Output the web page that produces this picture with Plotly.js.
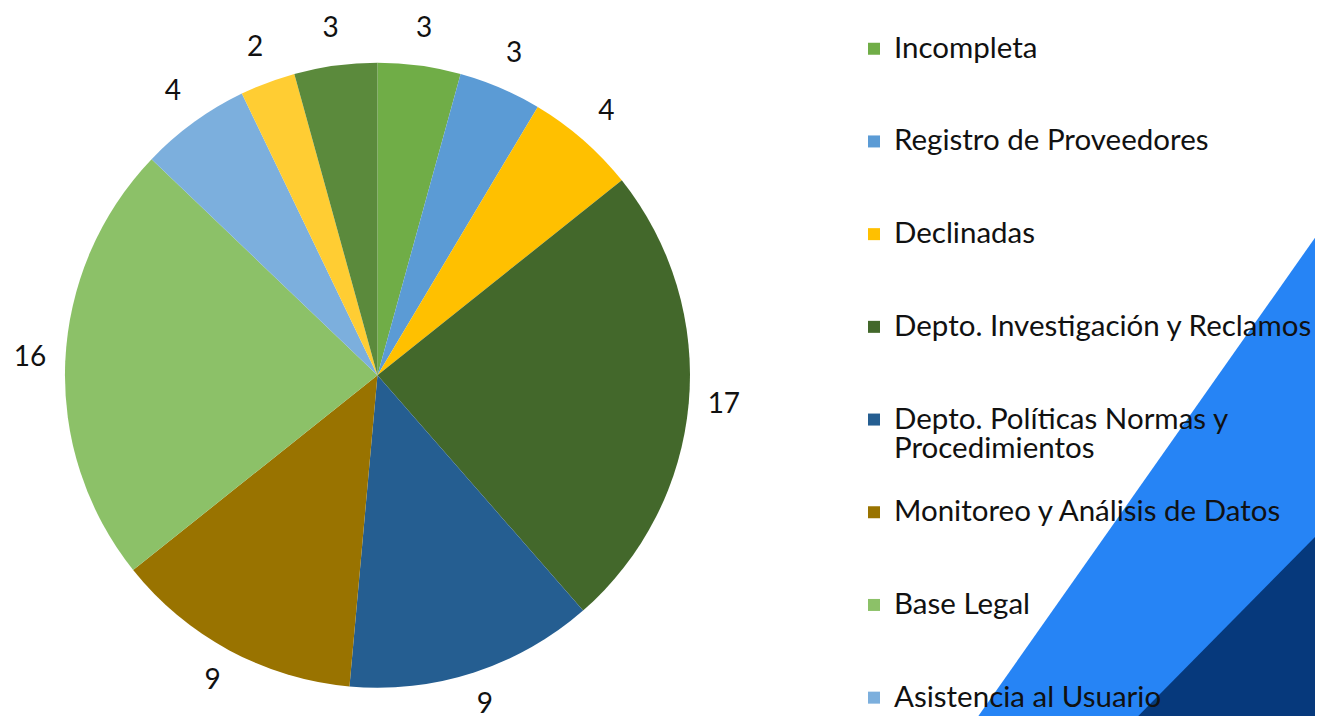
<!DOCTYPE html>
<html>
<head>
<meta charset="utf-8">
<script src="https://cdn.plot.ly/plotly-3.0.1.min.js"></script>
<style>
  html, body { margin: 0; padding: 0; background: #ffffff; }
  #plot { width: 1317px; height: 716px; }
</style>
</head>
<body>
<div id="plot"></div>
<script>
// slices, clockwise from 12 o'clock
var categories = [
  "Incompleta",
  "Registro de Proveedores",
  "Declinadas",
  "Depto. Investigación y Reclamos",
  "Depto. Políticas Normas y<br>Procedimientos",
  "Monitoreo y Análisis de Datos",
  "Base Legal",
  "Asistencia al Usuario",
  "Otros",
  "Sin clasificar"
];
var counts = [3, 3, 4, 17, 9, 9, 16, 4, 2, 3];
var sliceColors = ["#70AD47", "#5B9BD5", "#FFC000", "#43682B", "#255E91",
                   "#997300", "#8CC168", "#7CAFDD", "#FFCD33", "#5B8A3C"];

var FONT = "Lato, 'Open Sans', sans-serif";

// legend labels: bigger text inside, blank lines give the tall rows
var legendLabels = categories.map(function (c) {
  var lines = c.split("<br>").map(function (l) {
    return "<span style='font-size:29.5px'>" + l + "</span>";
  });
  while (lines.length < 3) lines.push(" ");
  return lines.join("<br>");
});

// value labels sit just outside the rim, at each slice's mid angle
var labelRadius = 1.113;   // in pie radii
var total = counts.reduce(function (a, b) { return a + b; }, 0);
var run = 0;
var labelX = [], labelY = [];
counts.forEach(function (v) {
  var a = (run + v / 2) / total * 2 * Math.PI;
  run += v;
  labelX.push(labelRadius * Math.sin(a));
  labelY.push(labelRadius * Math.cos(a));
});

var pie = {
  type: "pie",
  labels: legendLabels,
  values: counts,
  sort: false,
  direction: "clockwise",
  rotation: 0,
  marker: { colors: sliceColors, line: { width: 0 } },
  textinfo: "none",
  hoverinfo: "label+value",
  domain: { x: [0.0494, 0.5247], y: [0.039, 0.913] },
  showlegend: true
};

var valueLabels = {
  type: "scatter",
  mode: "text",
  x: labelX,
  y: labelY,
  text: counts.map(String),
  textposition: "middle center",
  textfont: { family: FONT, size: 28, color: "#111111" },
  cliponaxis: false,
  hoverinfo: "skip",
  showlegend: false
};

// 1 axis unit = 1 pie radius (313 px); centre of the pie at (0, 0)
var R = 313;
var layout = {
  width: 1317,
  height: 716,
  margin: { l: 0, r: 0, t: 0, b: 0 },
  paper_bgcolor: "#ffffff",
  plot_bgcolor: "rgba(0,0,0,0)",
  font: { family: FONT, color: "#111111" },
  xaxis: { visible: false, range: [-378 / R, (1317 - 378) / R], fixedrange: true },
  yaxis: { visible: false, range: [-(716 - 375) / R, 375 / R], fixedrange: true },
  legend: {
    x: 0.6495,
    xanchor: "left",
    y: 1,
    yanchor: "top",
    valign: "top",
    maxheight: 3000,
    bgcolor: "rgba(0,0,0,0)",
    font: { family: FONT, size: 23, color: "#111111" },
    title: { text: " ", font: { family: FONT, size: 21 } }
  },
  shapes: [
    { type: "path", xref: "paper", yref: "paper", layer: "below",
      path: "M 1 0.668 L 0.744 0 L 1 0 Z",
      fillcolor: "#2684F5", line: { width: 0 } },
    { type: "path", xref: "paper", yref: "paper", layer: "below",
      path: "M 1 0.25 L 0.8656 0 L 1 0 Z",
      fillcolor: "#06397C", line: { width: 0 } }
  ]
};

Plotly.newPlot("plot", [pie, valueLabels], layout, { displayModeBar: false, staticPlot: true });
</script>
</body>
</html>
